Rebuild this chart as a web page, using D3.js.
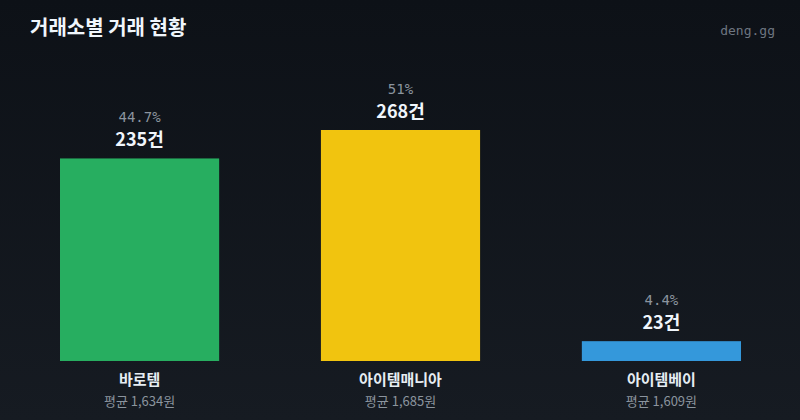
<!DOCTYPE html>
<html>
<head>
<meta charset="utf-8">
<script src="https://cdn.jsdelivr.net/npm/d3@7"></script>
<style>
  html, body { margin: 0; padding: 0; background: #0d1117; }
  svg { display: block; }
</style>
</head>
<body>
<svg id="chart" width="800" height="420"></svg>
<script>
// Data
const exchanges = ["바로템", "아이템매니아", "아이템베이"];
const counts = [235, 268, 23];
const shares = ["44.7%", "51%", "4.4%"];
const avgPrices = [1634, 1685, 1609];
const barColors = ["#27ae60", "#f1c40f", "#3498db"];

const width = 800, height = 420;
const baseY = 361, topY = 130;
const krFont = "'Noto Sans CJK KR', 'Noto Sans', sans-serif";
const monoFont = "'DejaVu Sans Mono', 'Liberation Mono', monospace";

const svg = d3.select("#chart");

// Background gradient
const defs = svg.append("defs");
const grad = defs.append("linearGradient")
    .attr("id", "bg")
    .attr("x1", 0).attr("y1", 0)
    .attr("x2", 0).attr("y2", 1);
grad.append("stop").attr("offset", "0%").attr("stop-color", "#0d1117");
grad.append("stop").attr("offset", "100%").attr("stop-color", "#161b22");
svg.append("rect")
    .attr("width", width).attr("height", height)
    .attr("fill", "url(#bg)");

// Header
svg.append("text")
    .attr("x", 30).attr("y", 35)
    .attr("fill", "#f0f6fc")
    .style("font-family", krFont)
    .style("font-size", "20px")
    .style("font-weight", 700)
    .text("거래소별 거래 현황");

svg.append("text")
    .attr("x", 775).attr("y", 35)
    .attr("text-anchor", "end")
    .attr("fill", "#6e7681")
    .style("font-family", monoFont)
    .style("font-size", "13px")
    .text("deng.gg");

// Scales
const x = d3.scaleBand()
    .domain(exchanges)
    .range([60, 741])
    .paddingInner(0.39)
    .paddingOuter(0);

const y = d3.scaleLinear()
    .domain([0, d3.max(counts)])
    .range([baseY, topY]);

const rows = exchanges.map((name, i) => ({
    name, count: counts[i], share: shares[i], avg: avgPrices[i], color: barColors[i]
}));

const g = svg.append("g");

// Bars
g.selectAll("rect.bar")
    .data(rows)
    .enter().append("rect")
    .attr("class", "bar")
    .attr("x", d => x(d.name))
    .attr("y", d => y(d.count))
    .attr("width", x.bandwidth())
    .attr("height", d => baseY - y(d.count))
    .attr("fill", d => d.color);

const cx = d => x(d.name) + x.bandwidth() / 2;

// Share labels
g.selectAll("text.share")
    .data(rows)
    .enter().append("text")
    .attr("class", "share")
    .attr("x", cx)
    .attr("y", d => y(d.count) - 36)
    .attr("text-anchor", "middle")
    .attr("fill", "#8b949e")
    .style("font-family", monoFont)
    .style("font-size", "14px")
    .text(d => d.share);

// Count labels
g.selectAll("text.count")
    .data(rows)
    .enter().append("text")
    .attr("class", "count")
    .attr("x", cx)
    .attr("y", d => y(d.count) - 12)
    .attr("text-anchor", "middle")
    .attr("fill", "#f0f6fc")
    .style("font-family", krFont)
    .style("font-size", "18px")
    .style("font-weight", 700)
    .text(d => d.count + "건");

// Exchange names
g.selectAll("text.name")
    .data(rows)
    .enter().append("text")
    .attr("class", "name")
    .attr("x", cx)
    .attr("y", 385)
    .attr("text-anchor", "middle")
    .attr("fill", "#e6edf3")
    .style("font-family", krFont)
    .style("font-size", "15px")
    .style("font-weight", 700)
    .text(d => d.name);

// Average price
const fmt = d3.format(",");
g.selectAll("text.avg")
    .data(rows)
    .enter().append("text")
    .attr("class", "avg")
    .attr("x", cx)
    .attr("y", 406)
    .attr("text-anchor", "middle")
    .attr("fill", "#8b949e")
    .style("font-family", krFont)
    .style("font-size", "13px")
    .text(d => "평균 " + fmt(d.avg) + "원");
</script>
</body>
</html>
